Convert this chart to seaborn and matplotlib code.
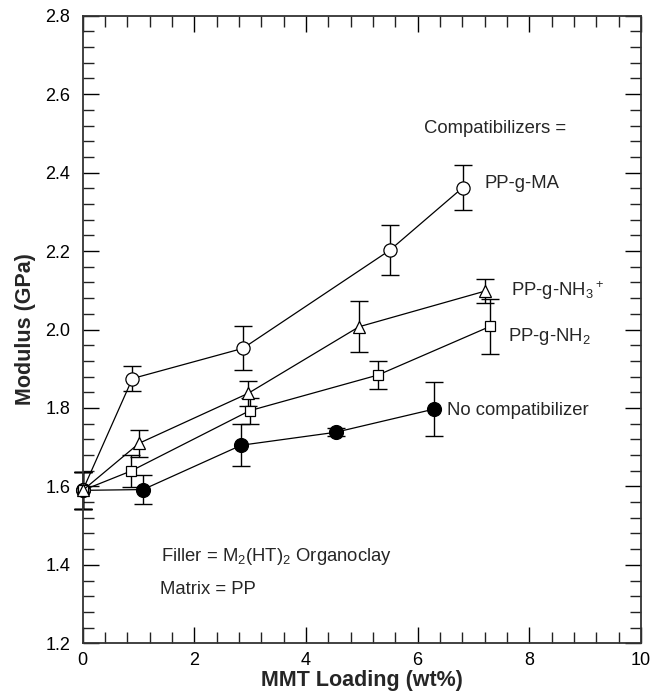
import matplotlib
matplotlib.use("Agg")
import matplotlib.pyplot as plt
import seaborn as sns
import pandas as pd
from matplotlib.ticker import MultipleLocator

# ---- data ----
x_none = [0.0, 1.08, 2.84, 4.53, 6.29]
y_none = [1.590, 1.592, 1.705, 1.738, 1.797]
e_none = [0.047, 0.038, 0.053, 0.010, 0.068]

x_ma = [0.0, 0.89, 2.87, 5.50, 6.81]
y_ma = [1.590, 1.875, 1.952, 2.202, 2.362]
e_ma = [0.047, 0.031, 0.056, 0.064, 0.057]

x_nh2 = [0.0, 0.86, 2.99, 5.29, 7.30]
y_nh2 = [1.590, 1.639, 1.793, 1.884, 2.008]
e_nh2 = [0.047, 0.040, 0.033, 0.035, 0.070]

x_nh3 = [0.0, 1.01, 2.96, 4.95, 7.21]
y_nh3 = [1.590, 1.710, 1.837, 2.007, 2.098]
e_nh3 = [0.047, 0.035, 0.033, 0.065, 0.030]

series_names = ["No compatibilizer", "PP-g-MA", "PP-g-NH2", "PP-g-NH3+"]
x_ticks = [0, 2, 4, 6, 8, 10]
y_ticks = [1.2, 1.4, 1.6, 1.8, 2.0, 2.2, 2.4, 2.6, 2.8]

sns.set_style("ticks")
plt.rcParams["font.family"] = ["Liberation Sans", "DejaVu Sans"]
plt.rcParams["mathtext.fontset"] = "custom"
plt.rcParams["mathtext.rm"] = "Liberation Sans"
plt.rcParams["mathtext.it"] = "Liberation Sans:italic"
plt.rcParams["mathtext.bf"] = "Liberation Sans:bold"

fig = plt.figure(figsize=(6.54, 6.94), dpi=100)
ax = fig.add_axes([0.1265, 0.0730, 0.8535, 0.9044])

styles = {
    "No compatibilizer": dict(marker="o", mfc="black", ms=10),
    "PP-g-MA": dict(marker="o", mfc="white", ms=9.5),
    "PP-g-NH2": dict(marker="s", mfc="white", ms=7),
    "PP-g-NH3+": dict(marker="^", mfc="white", ms=9),
}
data = {
    "No compatibilizer": (x_none, y_none, e_none),
    "PP-g-MA": (x_ma, y_ma, e_ma),
    "PP-g-NH2": (x_nh2, y_nh2, e_nh2),
    "PP-g-NH3+": (x_nh3, y_nh3, e_nh3),
}

for name in series_names:
    xs, ys, es = data[name]
    st = styles[name]
    ax.errorbar(xs, ys, yerr=es, fmt="none", ecolor="black", elinewidth=1.0,
                capsize=6.5, capthick=1.0, zorder=2, clip_on=False)
    df = pd.DataFrame({"x": xs, "y": ys})
    sns.lineplot(data=df, x="x", y="y", ax=ax, color="black", lw=0.9,
                 marker=st["marker"], markersize=st["ms"],
                 markerfacecolor=st["mfc"], markeredgecolor="black",
                 markeredgewidth=0.9, sort=False, estimator=None,
                 zorder=3, clip_on=False)

ax.set_xlim(0, 10)
ax.set_ylim(1.2, 2.8)
ax.set_xticks(x_ticks)
ax.set_xticklabels([str(v) for v in x_ticks])
ax.set_yticks(y_ticks)
ax.set_yticklabels([f"{v:.1f}" for v in y_ticks])
ax.xaxis.set_minor_locator(MultipleLocator(0.4))
ax.yaxis.set_minor_locator(MultipleLocator(0.04))
ax.tick_params(which="both", direction="in", top=True, right=True,
               color="#222222", width=1.0)
ax.tick_params(which="major", length=11.5, labelsize=13, colors="black")
ax.tick_params(axis="x", which="major", pad=6)
ax.tick_params(axis="y", which="major", pad=9)
ax.tick_params(which="minor", length=8)
for sp in ax.spines.values():
    sp.set_linewidth(1.3)
    sp.set_color("#333333")
    sp.set_visible(True)

ax.set_xlabel("MMT Loading (wt%)", fontsize=15.5, fontweight="bold", labelpad=1)
ax.set_ylabel("Modulus (GPa)", fontsize=15.5, fontweight="bold", labelpad=7)

fs = 13.3
ax.text(6.12, 2.512, "Compatibilizers =", fontsize=fs, va="center", ha="left")
ax.text(7.20, 2.373, "PP-g-MA", fontsize=fs, va="center", ha="left")
ax.text(7.67, 2.100, r"PP-g-NH$_3$$^+$", fontsize=fs, va="center", ha="left")
ax.text(7.61, 1.983, r"PP-g-NH$_2$", fontsize=fs, va="center", ha="left")
ax.text(6.53, 1.794, "No compatibilizer", fontsize=fs, va="center", ha="left")
ax.text(1.41, 1.421, r"Filler = M$_2$(HT)$_2$ Organoclay", fontsize=fs, va="center", ha="left")
ax.text(1.38, 1.336, "Matrix = PP", fontsize=fs, va="center", ha="left")

fig.savefig("out.png", dpi=100)
